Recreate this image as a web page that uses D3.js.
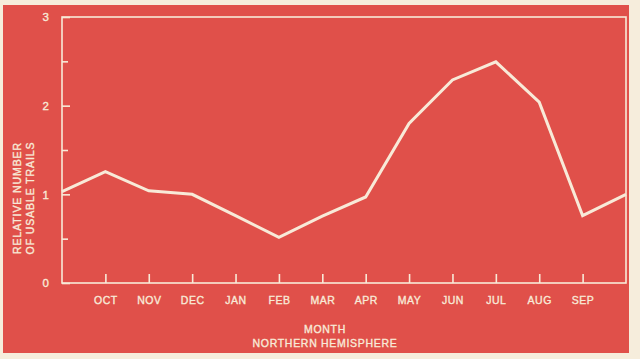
<!DOCTYPE html>
<html><head><meta charset="utf-8">
<script src="https://cdn.jsdelivr.net/npm/d3@7"></script>
<style>
html,body{margin:0;padding:0;background:#f6eddc;}
svg{display:block;}
text{font-family:"Liberation Sans",Arial,sans-serif;fill:#f8ead8;stroke:#f8ead8;stroke-width:0.35;}
</style></head>
<body>
<svg id="c" width="640" height="359"></svg>
<script>
const months = ["OCT","NOV","DEC","JAN","FEB","MAR","APR","MAY","JUN","JUL","AUG","SEP"];
const monthIdx = [1,2,3,4,5,6,7,8,9,10,11,12];
const pointIdx = [0,1,2,3,4,5,6,7,8,9,10,11,12,13];
const trails = [1.03,1.255,1.04,1.0,0.76,0.515,0.755,0.97,1.8,2.29,2.495,2.04,0.76,1.0];
const yTicks = [0,1,2,3];
const yMinor = [0.5,1.5,2.5];

const cream = "#f8ead8", red = "#e0504a";
const svg = d3.select("#c");
svg.append("rect").attr("x",3).attr("y",5).attr("width",626).attr("height",348).attr("fill",red);

const x = d3.scaleLinear().domain([0,13]).range([62,626]);
const y = d3.scaleLinear().domain([0,3]).range([283,17]);

// frame
svg.append("rect").attr("x",x(0)).attr("y",y(3)).attr("width",x(13)-x(0)).attr("height",y(0)-y(3))
  .attr("fill","none").attr("stroke",cream).attr("stroke-width",1.6);

// x ticks (upward)
const xa = d3.axisBottom(x).tickValues(monthIdx).tickSize(-9).tickFormat((d,i)=>months[i]).tickPadding(12);
const gx = svg.append("g").attr("transform",`translate(0,${y(0)})`).call(xa);
gx.select(".domain").remove();
gx.selectAll("line").attr("stroke",cream).attr("stroke-width",1.6);
gx.selectAll("text").attr("fill",cream).attr("font-size",10.5).attr("letter-spacing",0.5).attr("dy","0.9em");

// y ticks (inward)
const ya = d3.axisLeft(y).tickValues(yTicks).tickSize(-8).tickFormat(d3.format("d")).tickPadding(13);
const gy = svg.append("g").attr("transform",`translate(${x(0)},0)`).call(ya);
gy.select(".domain").remove();
gy.selectAll("line").attr("stroke",cream).attr("stroke-width",1.6);
gy.selectAll("text").attr("fill",cream).attr("font-size",11.5);
const ym = d3.axisLeft(y).tickValues(yMinor).tickSize(-6).tickFormat("");
const gym = svg.append("g").attr("transform",`translate(${x(0)},0)`).call(ym);
gym.select(".domain").remove();
gym.selectAll("line").attr("stroke",cream).attr("stroke-width",1.6);

// line
const line = d3.line().x((d,i)=>x(pointIdx[i])).y(d=>y(d));
svg.append("path").datum(trails).attr("d",line).attr("fill","none")
  .attr("stroke",cream).attr("stroke-width",3).attr("stroke-linejoin","miter");

// titles
svg.append("text").attr("x",325).attr("y",333).attr("text-anchor","middle")
  .attr("font-size",10.5).attr("letter-spacing",0.7).text("MONTH");
svg.append("text").attr("x",325).attr("y",347).attr("text-anchor","middle")
  .attr("font-size",10.5).attr("letter-spacing",0.7).text("NORTHERN HEMISPHERE");
const yt = svg.append("g").attr("transform","translate(20.5,198) rotate(-90)");
yt.append("text").attr("text-anchor","middle").attr("font-size",10.5).attr("letter-spacing",0.9).text("RELATIVE NUMBER");
yt.append("text").attr("y",13).attr("text-anchor","middle").attr("font-size",10.5).attr("letter-spacing",0.9).text("OF USABLE TRAILS");
</script>
</body></html>
